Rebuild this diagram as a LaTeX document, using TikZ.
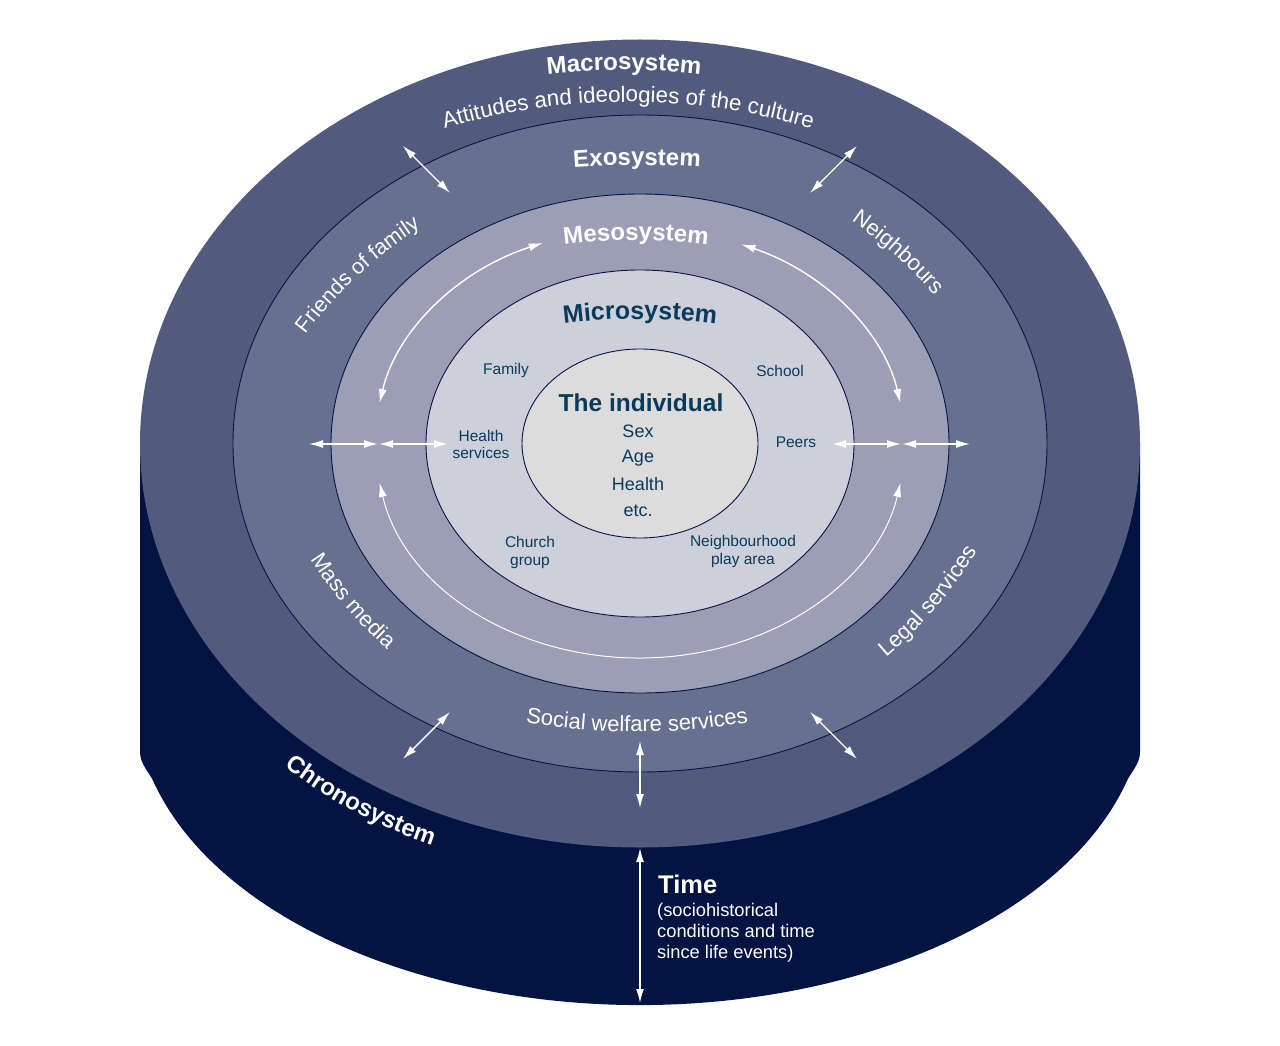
\documentclass[tikz,border=0pt]{standalone}
\usepackage{fontspec}
\setmainfont{Liberation Sans}
\usetikzlibrary{arrows.meta,decorations.text}
\definecolor{chrono}{RGB}{3,19,66}
\definecolor{macro}{RGB}{82,91,126}
\definecolor{exo}{RGB}{103,112,142}
\definecolor{meso}{RGB}{155,158,180}
\definecolor{micro}{RGB}{205,208,219}
\definecolor{indiv}{RGB}{220,220,220}
\definecolor{rim}{RGB}{8,20,70}
\definecolor{txtblue}{RGB}{10,58,92}
\newcommand{\fsz}[2]{\fontsize{#1}{#2}\selectfont}
% clockwise (on screen) text along a circular arc; #1,#2 baseline midpoint, #3 angle, #4 radius, #5 half span, #6 text
\newcommand{\ringtextcw}[6]{%
  \pgfmathsetmacro{\rta}{#3-#5}\pgfmathsetmacro{\rtb}{#3+#5}\pgfmathsetmacro{\rtc}{#3+180}%
  \path[shift={(#1,#2)}, shift={(\rtc:#4)}, decorate,
        decoration={text along path, text align=center, text={#6}}]
        (\rta:#4) arc[start angle=\rta, end angle=\rtb, radius=#4];}
% counter-clockwise (on screen) text along a circular arc
\newcommand{\ringtextccw}[6]{%
  \pgfmathsetmacro{\rta}{#3-#5}\pgfmathsetmacro{\rtb}{#3+#5}\pgfmathsetmacro{\rtc}{#3+180}%
  \path[shift={(#1,#2)}, shift={(\rtc:#4)}, decorate,
        decoration={text along path, text align=center, text={#6}}]
        (\rtb:#4) arc[start angle=\rtb, end angle=\rta, radius=#4];}
\tikzset{
  ring/.style={draw=rim, line width=0.9pt},
  arr/.style={draw=white, line width=1.4pt, >={Latex[length=14pt,width=8pt]}, <->},
  inlabel/.style={text=txtblue, font=\fsz{15.5}{17.5}, inner sep=0pt, align=center},
  indlabel/.style={text=txtblue, font=\fsz{18}{20}, inner sep=0pt},
}
\begin{document}
\begin{tikzpicture}[x=1pt,y=-1pt]
\useasboundingbox (0,0) rectangle (1280,1046);
\fill[white] (0,0) rectangle (1280,1046);
% chronosystem (cylinder body)
\fill[chrono] (140,443.5) -- (140,752) .. controls (140,764) and (149,772) .. (153.2,781)
  arc[start angle=164.6, end angle=15.4, x radius=505, y radius=305]
  .. controls (1131,772) and (1140,764) .. (1140,752) -- (1140,443.5) -- cycle;
% rings
\fill[macro] (640,443.5) ellipse[x radius=500, y radius=404];
\path[ring, fill=exo] (640,443.5) ellipse[x radius=407, y radius=328.5];
\path[ring, fill=meso] (640,443.5) ellipse[x radius=309, y radius=249.5];
\path[ring, fill=micro] (640,443.5) ellipse[x radius=214, y radius=173.5];
\path[ring, fill=indiv] (640,443.5) ellipse[x radius=118, y radius=94.5];
% arrow end points
\coordinate (dTLa) at (403,146); \coordinate (dTLb) at (450,193);
\coordinate (dTRa) at (857,146); \coordinate (dTRb) at (810,193);
\coordinate (dBLa) at (403,759); \coordinate (dBLb) at (450,712);
\coordinate (dBRa) at (857,759); \coordinate (dBRb) at (810,712);
\coordinate (hL1) at (309,444); \coordinate (hL2) at (378,444);
\coordinate (hL3) at (379,444); \coordinate (hL4) at (448,444);
\coordinate (hR1) at (832,444); \coordinate (hR2) at (901,444);
\coordinate (hR3) at (902,444); \coordinate (hR4) at (970,444);
\coordinate (vB1) at (640,741); \coordinate (vB2) at (640,808);
\coordinate (vT1) at (640,848); \coordinate (vT2) at (640,1003);
\coordinate (mTL) at (379.6,403.1);
\coordinate (mTR) at (741.4,244.4);
\coordinate (mB) at (379.6,482.9);
% arrows
\draw[arr] (dTLa) -- (dTLb);
\draw[arr] (dTRa) -- (dTRb);
\draw[arr] (dBLa) -- (dBLb);
\draw[arr] (dBRa) -- (dBRb);
\draw[arr] (hL1) -- (hL2);
\draw[arr] (hL3) -- (hL4);
\draw[arr] (hR1) -- (hR2);
\draw[arr] (hR3) -- (hR4);
\draw[arr] (vB1) -- (vB2);
\draw[arr] (vT1) -- (vT2);
\draw[arr] (mTL) arc[start angle=190.7, end angle=248.5, x radius=265, y radius=215];
\draw[arr] (mTR) arc[start angle=292.5, end angle=349.3, x radius=265, y radius=215];
\draw[arr, line width=1pt] (mB) arc[start angle=169.3, end angle=10.7, x radius=265, y radius=215];
% ring labels
\ringtextcw{624}{70}{270}{700}{12}{|\color{white}\bfseries\fsz{24}{24}|Macrosystem}
\ringtextcw{628}{102}{270}{650}{22}{|\color{white}\fsz{22.3}{22.3}|Attitudes and ideologies of the culture}
\ringtextcw{637}{165}{270}{900}{10}{|\color{white}\bfseries\fsz{24}{24}|Exosystem}
\ringtextcw{636}{240}{270}{560}{14}{|\color{white}\bfseries\fsz{24}{24}|Mesosystem}
\ringtextcw{640}{319}{270}{600}{14}{|\color{txtblue}\bfseries\fsz{25}{25}|Microsystem}
\ringtextcw{358.5}{275.5}{227}{450}{18}{|\color{white}\fsz{21.5}{21.5}|Friends of family}
\ringtextcw{895.5}{255.5}{311.6}{450}{15}{|\color{white}\fsz{22}{22}|Neighbours}
\ringtextccw{346}{607}{139.6}{450}{15}{|\color{white}\fsz{22}{22}|Mass media}
\ringtextccw{936}{608}{40.8}{450}{15}{|\color{white}\fsz{22}{22}|Legal services}
\ringtextccw{637}{732}{90}{650}{16}{|\color{white}\fsz{22}{22}|Social welfare services}
\ringtextccw{355}{812}{118}{500}{16}{|\color{white}\bfseries\fsz{24}{24}|Chronosystem}
% microsystem labels
\node[inlabel] (family) at (506,370.5) {Family};
\node[inlabel] (school) at (780,370.5) {School};
\node[inlabel] (health) at (481,444.5) {Health\\services};
\node[inlabel] (peers) at (796,442.5) {Peers};
\node[inlabel] (church) at (530,552.5) {Church\\group};
\node[inlabel] (play) at (743,551.5) {Neighbourhood\\play area};
% individual
\node[text=txtblue, font=\bfseries\fsz{24.5}{26}, inner sep=0pt] (indiv) at (641,402.5) {The individual};
\node[indlabel] (sex) at (638,431) {Sex};
\node[indlabel] (age) at (638,458) {Age};
\node[indlabel] (hlth) at (638,484) {Health};
\node[indlabel] (etc) at (638,511) {etc.};
% time
\node[text=white, font=\bfseries\fsz{25.5}{27}, inner sep=0pt, anchor=base west] (time) at (658,893) {Time};
\node[text=white, font=\fsz{18.3}{21}, inner sep=0pt, anchor=north west, align=left] (timetxt) at (657,903)
  {(sociohistorical\\conditions and time\\since life events)};
\end{tikzpicture}
\end{document}
